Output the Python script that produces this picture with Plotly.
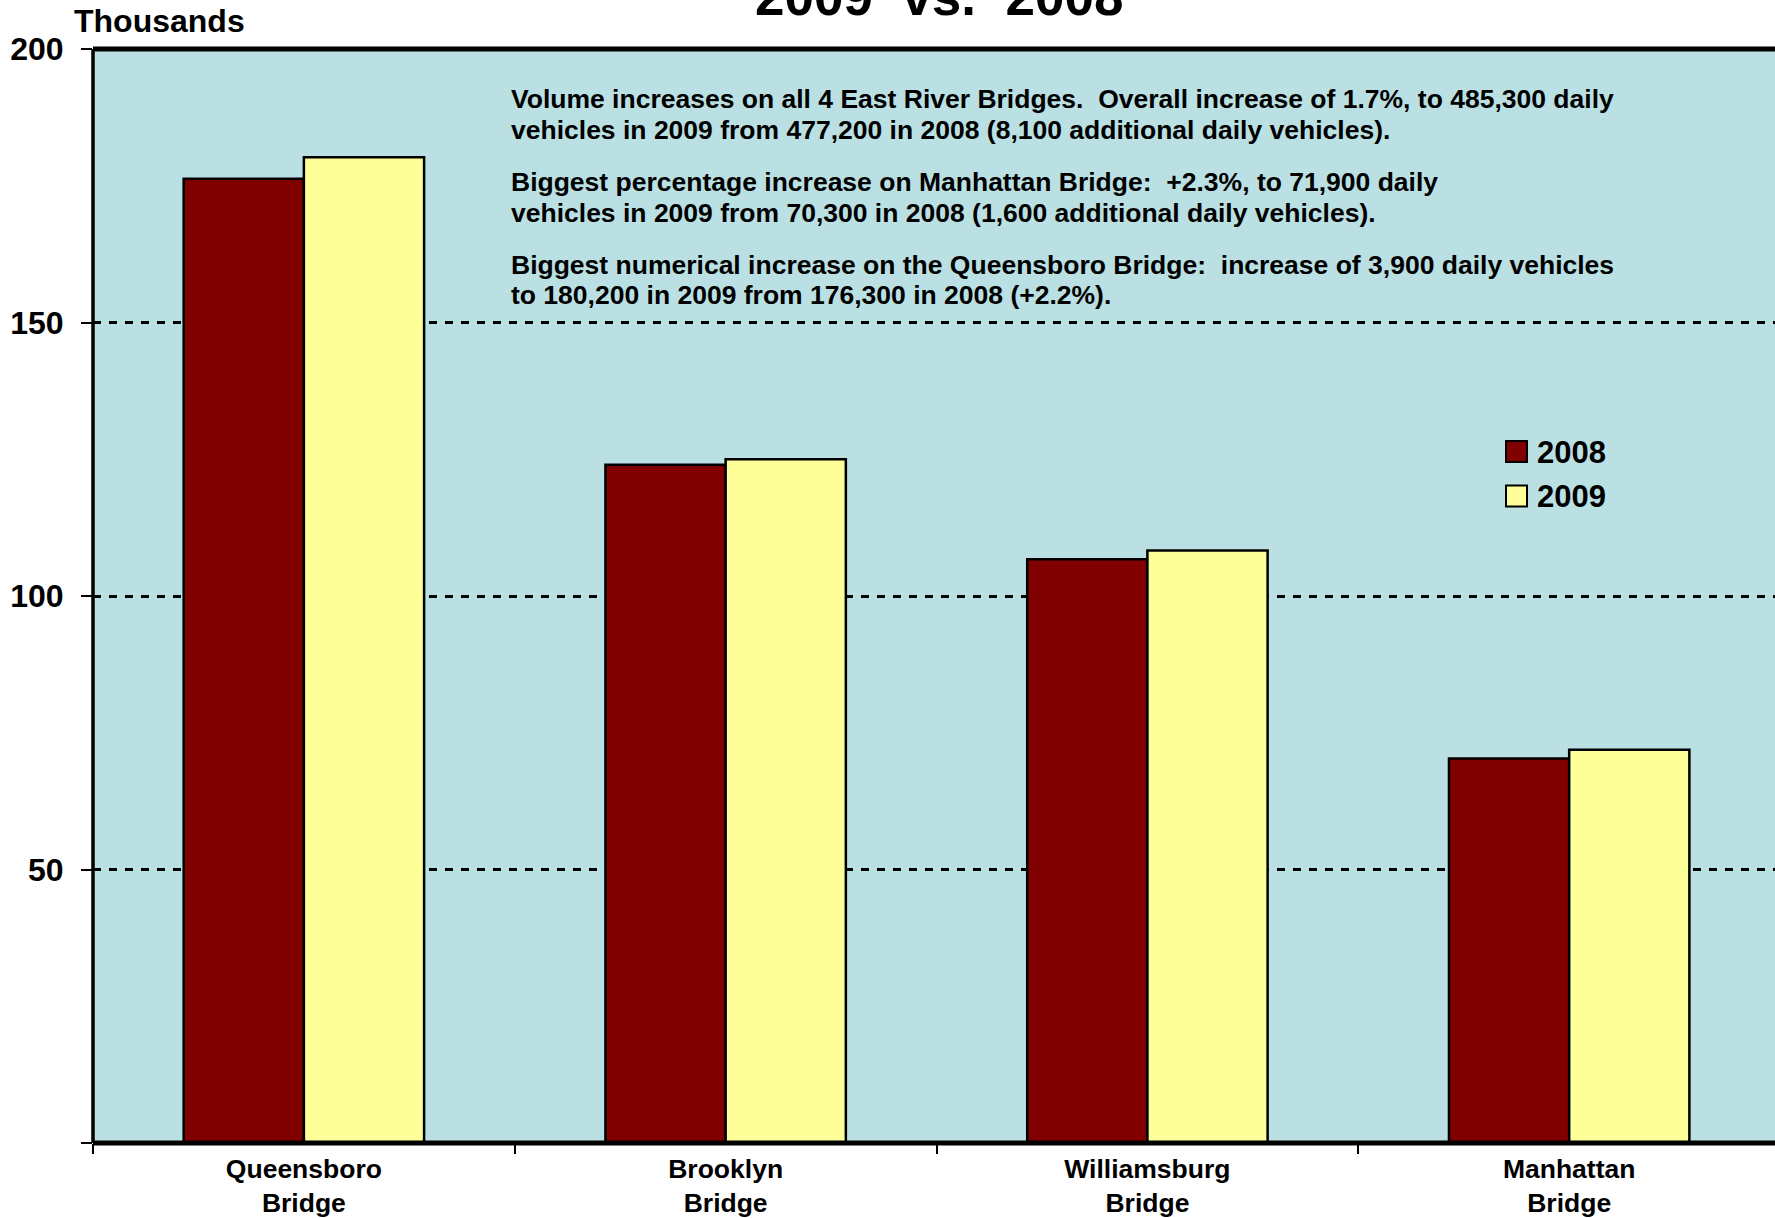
import plotly.graph_objects as go

# ---- data ----
bridges = ["Queensboro<br>Bridge", "Brooklyn<br>Bridge", "Williamsburg<br>Bridge", "Manhattan<br>Bridge"]
series_names = ["2008", "2009"]
values_2008 = [176.3, 124.0, 106.7, 70.3]
values_2009 = [180.2, 125.0, 108.3, 71.9]
y_tick_vals = [0, 50, 100, 150, 200]
y_tick_text = ["", "50", "100", "150", "200"]
title_text = "2009  vs.  2008"
y_unit = "Thousands"
notes = [
    "Volume increases on all 4 East River Bridges.  Overall increase of 1.7%, to 485,300 daily",
    "vehicles in 2009 from 477,200 in 2008 (8,100 additional daily vehicles).",
    "Biggest percentage increase on Manhattan Bridge:  +2.3%, to 71,900 daily",
    "vehicles in 2009 from 70,300 in 2008 (1,600 additional daily vehicles).",
    "Biggest numerical increase on the Queensboro Bridge:  increase of 3,900 daily vehicles",
    "to 180,200 in 2009 from 176,300 in 2008 (+2.2%).",
]

# ---- style ----
W, H = 1775, 1218
L, T = 93, 49
B_PIX = 1145.5
PW = W - L
PH = B_PIX - T
FONT = "Liberation Sans, Arial, sans-serif"
C08, C09 = "#800000", "#FFFF99"
BG = "#BAE0E3"


def px(x):
    return (x - L) / PW


def py(y):
    return (B_PIX - y) / PH


fig = go.Figure()
fig.add_trace(go.Bar(x=bridges, y=values_2008, name=series_names[0],
                     marker=dict(color=C08, line=dict(color="black", width=2.5)),
                     showlegend=False))
fig.add_trace(go.Bar(x=bridges, y=values_2009, name=series_names[1],
                     marker=dict(color=C09, line=dict(color="black", width=2.5)),
                     showlegend=False))

shapes = [
    dict(type="line", xref="paper", yref="paper", x0=0, x1=1, y0=1, y1=1,
         line=dict(color="black", width=5), layer="above"),
    dict(type="line", xref="paper", yref="paper", x0=0, x1=1, y0=0, y1=0,
         line=dict(color="black", width=5), layer="above"),
    dict(type="line", xref="paper", yref="paper", x0=0, x1=0, y0=0, y1=1,
         line=dict(color="black", width=3.5), layer="above"),
]
annotations = []

# manual legend
leg_y = [452.5, 497]
for i, (name, col) in enumerate(zip(series_names, [C08, C09])):
    cy = leg_y[i]
    shapes.append(dict(type="rect", xref="paper", yref="paper",
                       x0=px(1506), x1=px(1527), y0=py(cy + 10.5), y1=py(cy - 10.5),
                       fillcolor=col, line=dict(color="black", width=2), layer="above"))
    annotations.append(dict(text=f"<b>{name}</b>", xref="paper", yref="paper",
                            x=px(1535), y=py(cy + 1), xanchor="left", yanchor="middle",
                            showarrow=False, font=dict(family=FONT, size=31, color="black")))

# notes
note_y = [99, 130, 182, 213, 265, 296]
for txt, yy in zip(notes, note_y):
    annotations.append(dict(text=f"<b>{txt}</b>", xref="paper", yref="paper",
                            x=px(509), y=py(yy), xanchor="left", yanchor="middle",
                            showarrow=False, font=dict(family=FONT, size=26.5, color="black")))

# title (partially cut at top, as in the reference)
annotations.append(dict(text=f"<b>{title_text}</b>", xref="paper", yref="paper",
                        x=px(939), y=py(-4), xanchor="center", yanchor="middle",
                        showarrow=False, font=dict(family=FONT, size=53, color="black")))
# y unit
annotations.append(dict(text=f"<b>{y_unit}</b>", xref="paper", yref="paper",
                        x=px(72), y=py(21), xanchor="left", yanchor="middle",
                        showarrow=False, font=dict(family=FONT, size=32, color="black")))

fig.update_layout(
    width=W, height=H,
    margin=dict(l=L, r=0, t=T, b=H - B_PIX),
    paper_bgcolor="white",
    plot_bgcolor=BG,
    barmode="group",
    bargap=0.43,
    bargroupgap=0,
    shapes=shapes,
    annotations=annotations,
    showlegend=False,
    font=dict(family=FONT, color="black"),
)
fig.update_xaxes(
    type="category",
    range=[-0.5, 3.488],
    tickson="boundaries",
    ticks="outside", ticklen=10, tickwidth=2, tickcolor="black",
    tickfont=dict(family=FONT, size=26.5, color="black", weight="bold"),
    showgrid=False, showline=False, zeroline=False,
    ticklabelstandoff=7,
    fixedrange=True,
)
fig.update_yaxes(
    range=[0, 200],
    tickvals=y_tick_vals, ticktext=y_tick_text,
    ticks="outside", ticklen=11, tickwidth=2, tickcolor="black",
    tickfont=dict(family=FONT, size=32, color="black", weight="bold"),
    showgrid=True, gridcolor="black", gridwidth=3, griddash="8px,8px",
    showline=False, zeroline=False,
    ticklabelstandoff=11,
    fixedrange=True,
)

fig.write_html("out.html",
               config={"displayModeBar": False},
               post_script="document.body.style.margin='0';document.body.style.overflow='hidden';")
